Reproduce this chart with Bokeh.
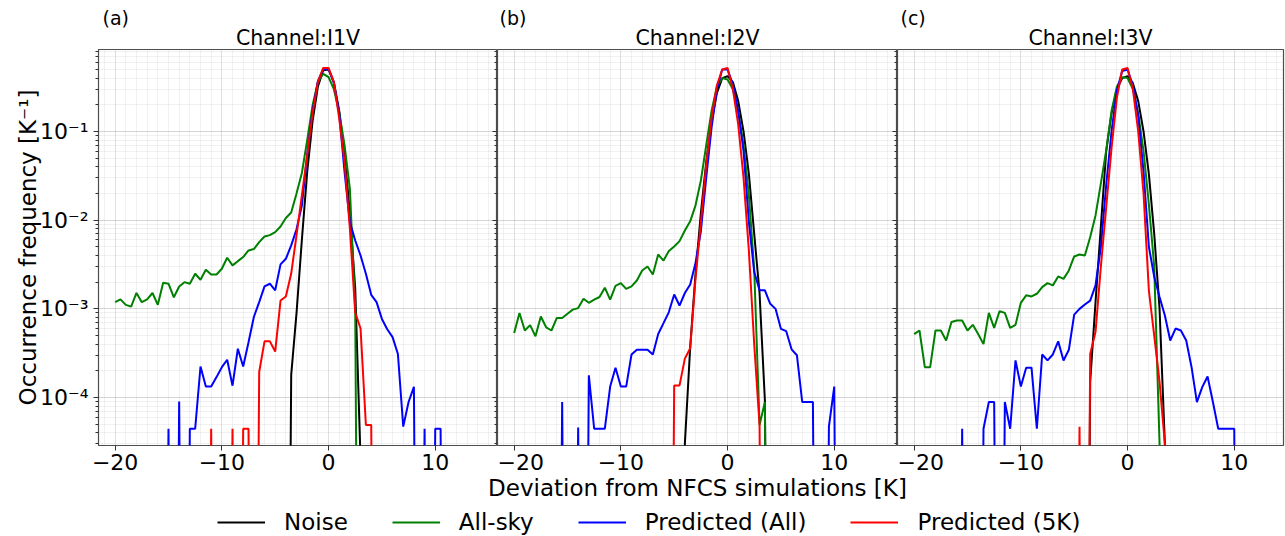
from bokeh.plotting import figure
from bokeh.models import (Range1d, LogTicker, SingleIntervalTicker, CustomJSTickFormatter,
                          Title, Legend, LegendItem, LogAxis, Label)
from bokeh.layouts import column, row
from bokeh.embed import file_html
from bokeh.resources import INLINE

FONT = "DejaVu Sans"

# bin positions (K), 0.5 K bins from -20 to 12
bins = [-20 + 0.5 * i for i in range(65)]

series_names = ["Noise", "All-sky", "Predicted (All)", "Predicted (5K)"]
series_colors = ["#000000", "#008000", "#0000ff", "#ff0000"]
channels = ["Channel:I1V", "Channel:I2V", "Channel:I3V"]
letters = ["(a)", "(b)", "(c)"]
x_title = "Deviation from NFCS simulations [K]"
y_title = "Occurrence frequency [K\u207b\u00b9]"

# ---------------- Channel I1V ----------------
noise_a = [0] * 33 + [1.8e-4, 9e-4, 6e-3, 0.035, 0.13, 0.32, 0.49, 0.50, 0.36, 0.17, 0.055, 0.012,
                      1.7e-3, 2e-5] + [0] * 18
allsky_a = [1.19e-3, 1.28e-3, 1.11e-3, 1.06e-3, 1.51e-3, 1.19e-3, 1.28e-3, 1.51e-3, 1.11e-3, 1.97e-3,
            1.92e-3, 1.35e-3, 1.79e-3, 2.00e-3, 1.92e-3, 2.49e-3, 2.13e-3, 2.76e-3, 2.44e-3, 2.44e-3,
            2.83e-3, 3.77e-3, 3.09e-3, 3.45e-3, 3.84e-3, 4.56e-3, 4.72e-3, 5.66e-3, 6.55e-3, 6.78e-3,
            7.33e-3, 8.49e-3, 1.06e-2, 1.22e-2,
            0.020, 0.034, 0.08, 0.196, 0.36, 0.447, 0.41, 0.30, 0.165, 0.07, 0.0226, 1.0e-3] + [0] * 19
predall_a = [0] * 10 + [4.45e-5, 0, 9e-5, 0, 4.45e-5, 4.45e-5, 2.24e-4, 1.33e-4, 1.33e-4, 1.7e-4,
                        2.2e-4, 2.67e-4, 1.36e-4, 3.55e-4, 2.24e-4, 4.2e-4, 8.1e-4, 1.19e-3, 1.79e-3, 1.92e-3,
                        1.62e-3, 3.17e-3, 3.67e-3, 5.19e-3, 7.9e-3, 0.0146, 0.055, 0.17, 0.37, 0.50,
                        0.51, 0.35, 0.16, 0.035, 9.5e-3, 5.9e-3, 4.0e-3, 2.49e-3, 1.44e-3, 1.19e-3,
                        7.7e-4, 5.9e-4, 4.8e-4, 3.1e-4, 4.7e-5, 8.9e-5, 1.32e-4, 0, 4.45e-5, 0,
                        4.45e-5, 4.45e-5, 0, 0, 0]
pred5k_a = [0] * 18 + [4.45e-5, 0, 0, 0, 4.45e-5, 0, 4.45e-5, 4.45e-5, 0, 1.94e-4, 4.3e-4, 4.3e-4,
                       3.3e-4, 1.24e-3, 1.38e-3, 2.5e-3, 6.8e-3, 0.019, 0.054, 0.16, 0.36, 0.52,
                       0.52, 0.36, 0.14, 0.045, 8e-3, 9.1e-4, 6.0e-4, 4.9e-5, 4.9e-5] + [0] * 16

# ---------------- Channel I2V ----------------
noise_b = [0] * 32 + [3e-5, 3.7e-4, 2.5e-3, 0.012, 0.045, 0.13, 0.27, 0.40, 0.42, 0.36, 0.22, 0.10,
                      0.033, 7e-3, 1.5e-3, 9.3e-5] + [0] * 17
allsky_b = [5.33e-4, 9.0e-4, 5.7e-4, 6.56e-4, 4.9e-4, 8.2e-4, 6.2e-4, 5.7e-4, 7.9e-4, 7.9e-4,
            8.8e-4, 9.8e-4, 1.02e-3, 1.30e-3, 1.17e-3, 1.27e-3, 1.36e-3, 1.73e-3, 1.27e-3, 1.82e-3,
            1.95e-3, 1.68e-3, 1.79e-3, 2.09e-3, 2.71e-3, 3.0e-3, 2.44e-3, 4.1e-3, 3.5e-3, 4.5e-3,
            5.05e-3, 5.8e-3, 7.66e-3, 9.7e-3, 0.0147, 0.028,
            0.0695, 0.17, 0.32, 0.40, 0.385, 0.30, 0.17, 0.07, 0.019, 2.8e-3, 4.9e-5, 8.9e-5] + [0] * 17
predall_b = [0] * 9 + [8.9e-5, 0, 0, 4.6e-5, 0, 1.78e-4, 4.45e-5, 4.45e-5, 4.45e-5, 1.33e-4, 2.17e-4,
                       1.33e-4, 1.33e-4, 3.06e-4, 3.46e-4, 3.46e-4, 3.46e-4, 3.06e-4, 5.2e-4, 6.9e-4, 9.2e-4,
                       1.45e-3, 1.09e-3, 1.51e-3, 1.88e-3, 3.3e-3, 7.5e-3, 0.03, 0.11, 0.30, 0.50,
                       0.50, 0.34, 0.17, 0.06, 9.5e-3, 2.6e-3, 1.62e-3, 1.62e-3, 1.14e-3, 1.0e-3,
                       5.95e-4, 5.6e-4, 3.5e-4, 3.0e-4, 8.9e-5, 8.9e-5, 8.9e-5, 0, 0, 4.7e-5,
                       1.33e-4, 0, 0, 0, 0]
pred5k_b = [0] * 30 + [1.37e-4, 1.37e-4, 2.75e-4, 3.6e-4, 2.2e-3, 9.4e-3, 0.042, 0.14, 0.33, 0.50,
                       0.52, 0.30, 0.12, 0.03, 4.5e-3, 4e-4, 4.9e-5] + [0] * 18

# ---------------- Channel I3V ----------------
noise_c = [0] * 33 + [1.5e-4, 1.2e-3, 8.5e-3, 0.06, 0.16, 0.30, 0.40, 0.42, 0.35, 0.22, 0.10, 0.033,
                      7e-3, 1e-3, 3e-5] + [0] * 17
allsky_c = [5.2e-4, 5.7e-4, 2.2e-4, 2.2e-4, 5.7e-4, 5.7e-4, 4.4e-4, 7.1e-4, 7.4e-4, 7.4e-4,
            5.7e-4, 6.6e-4, 5.2e-4, 4.0e-4, 9.0e-4, 6.1e-4, 9.4e-4, 9.0e-4, 6.1e-4, 6.6e-4,
            1.17e-3, 1.42e-3, 1.38e-3, 1.48e-3, 1.76e-3, 1.95e-3, 1.84e-3, 2.32e-3, 2.18e-3, 2.71e-3,
            3.9e-3, 4.1e-3, 4.0e-3, 6.45e-3, 0.0113, 0.026,
            0.061, 0.17, 0.32, 0.41, 0.40, 0.30, 0.16, 0.06, 0.015, 3e-3, 3e-5] + [0] * 18
predall_c = [0] * 9 + [4.45e-5, 0, 0, 0, 4.45e-5, 8.9e-5, 8.9e-5, 0, 8.9e-5, 4.45e-5, 2.62e-4,
                       1.33e-4, 2.17e-4, 2.17e-4, 4.45e-5, 3.06e-4, 2.62e-4, 3.06e-4, 4.3e-4, 2.62e-4, 3.46e-4,
                       8.6e-4, 1.0e-3, 1.12e-3, 1.24e-3, 1.84e-3, 5e-3, 0.025, 0.10, 0.29, 0.48,
                       0.50, 0.33, 0.15, 0.035, 5e-3, 2.3e-3, 1.36e-3, 8.4e-4, 4.4e-4, 6.0e-4,
                       5.7e-4, 4.4e-4, 2.2e-4, 8.9e-5, 1.31e-4, 1.73e-4, 8.9e-5, 4.45e-5, 4.45e-5, 4.45e-5,
                       4.45e-5, 0, 0, 0, 0]
pred5k_c = [0] * 31 + [4.7e-5, 0, 3.1e-4, 5.5e-4, 3e-3, 0.014, 0.065, 0.24, 0.50, 0.52, 0.30, 0.10,
                       0.02, 1.6e-3, 5e-4, 1.5e-4, 3e-5] + [0] * 17

panel_data = [
    (noise_a, allsky_a, predall_a, pred5k_a),
    (noise_b, allsky_b, predall_b, pred5k_b),
    (noise_c, allsky_c, predall_c, pred5k_c),
]

# empty bins (zero counts) are drawn as drops far below the axis, as a clipped log plot does
def floor(vals):
    return [v if v > 0 else 1e-12 for v in vals]

TOP = 49
FRAME_H = 396
BOTTOM = 34
H = TOP + FRAME_H + BOTTOM          # 479
OVERLAP = 20
TOTAL_H = 535
STRIP_H = TOTAL_H - H + OVERLAP     # 76
Y0, Y1 = 2.88e-5, 0.84
X0 = -21.56
PX_PER_K = 10.67

xfmt = CustomJSTickFormatter(code="return tick < 0 ? '\u2212' + Math.abs(tick) : String(tick);")
yfmt = CustomJSTickFormatter(code="""
const sup = {'-':'\u207b','0':'\u2070','1':'\u00b9','2':'\u00b2','3':'\u00b3','4':'\u2074',
             '5':'\u2075','6':'\u2076','7':'\u2077','8':'\u2078','9':'\u2079'};
const e = Math.round(Math.log10(tick));
return '10' + String(e).split('').map(c => sup[c]).join('');
""")
blankfmt = CustomJSTickFormatter(code="return '';")

y_range = Range1d(Y0, Y1)
# (figure width, left border, right border, frame width, title offset)
specs = [(497, 98, 0, 399, 4), (400, 0, 0, 400, 2), (388, 0, 2, 386, 3)]
figs = []
for k in range(3):
    width, left, right, fw, loff = specs[k]
    p = figure(width=width, height=H, x_range=Range1d(X0, X0 + fw / PX_PER_K), y_range=y_range,
               y_axis_type="log", output_backend="svg", toolbar_location=None,
               min_border_left=left, min_border_right=right, min_border_top=TOP,
               min_border_bottom=BOTTOM, title=letters[k])
    # outer title: panel letter
    p.title.align = "left"
    p.title.offset = loff
    p.title.text_font = FONT
    p.title.text_font_size = "19px"
    p.title.text_font_style = "normal"
    p.title.text_color = "black"
    p.title.standoff = -10
    # inner title: channel name (added later -> closer to the frame)
    p.add_layout(Title(text=channels[k], align="center", text_font=FONT, text_font_size="20.5px",
                       text_font_style="normal", text_color="black", standoff=0), "above")

    p.outline_line_color = "#4d4d4d"
    p.outline_line_width = 1.2
    p.background_fill_color = "white"

    # x axis
    p.xaxis.ticker = SingleIntervalTicker(interval=10, num_minor_ticks=10)
    p.xaxis.formatter = xfmt
    p.xaxis.major_label_text_font = FONT
    p.xaxis.major_label_text_font_size = "22px"
    p.xaxis.major_label_text_color = "black"
    p.xaxis.major_tick_out = 5
    p.xaxis.major_tick_in = 0
    p.xaxis.minor_tick_out = 0
    p.xaxis.minor_tick_in = 0
    p.xaxis.major_label_standoff = 3
    p.xaxis.axis_line_color = None
    p.xaxis.major_tick_line_color = "#333333"

    # y axis
    p.yaxis.ticker = LogTicker(num_minor_ticks=10, mantissas=[1])
    p.yaxis.formatter = yfmt
    p.yaxis.axis_line_color = None
    if k == 0:
        p.yaxis.major_label_text_font = FONT
        p.yaxis.major_label_text_font_size = "22px"
        p.yaxis.major_label_text_color = "black"
        p.yaxis.major_tick_out = 5
        p.yaxis.major_tick_in = 0
        p.yaxis.minor_tick_out = 3
        p.yaxis.minor_tick_in = 0
        p.yaxis.major_label_standoff = 5
        p.yaxis.axis_label = y_title
        p.yaxis.axis_label_text_font = FONT
        p.yaxis.axis_label_text_font_size = "23px"
        p.yaxis.axis_label_text_font_style = "normal"
        p.yaxis.axis_label_text_color = "black"
        p.yaxis.axis_label_standoff = -4
        p.yaxis.major_tick_line_color = "#333333"
        p.yaxis.minor_tick_line_color = "#333333"
    else:
        p.yaxis.visible = False
    if k < 2:
        # tick marks of the next panel's left spine
        ra = LogAxis(ticker=LogTicker(num_minor_ticks=10, mantissas=[1]), formatter=blankfmt,
                     major_label_standoff=0,
                     major_tick_in=5, major_tick_out=0, minor_tick_in=3, minor_tick_out=0,
                     axis_line_color=None, major_tick_line_color="#333333",
                     minor_tick_line_color="#333333")
        p.add_layout(ra, "right")

    # grid
    for g in (p.xgrid, p.ygrid):
        g.grid_line_color = "#b0b0b0"
        g.grid_line_alpha = 0.28
        g.minor_grid_line_color = "#b0b0b0"
        g.minor_grid_line_alpha = 0.18

    for vals, col in zip(panel_data[k], series_colors):
        p.line(bins, floor(vals), color=col, line_width=2)
    figs.append(p)

# strip under the panels: shared x-axis title and legend (transparent, overlaps the empty
# lower border of the panels)
lf = figure(width=1285, height=STRIP_H, output_backend="svg", toolbar_location=None,
            min_border=0, x_range=Range1d(0, 1285), y_range=Range1d(0, STRIP_H),
            margin=(-OVERLAP, 0, 0, 0))
lf.outline_line_color = None
lf.background_fill_color = None
lf.border_fill_color = None
lf.axis.visible = False
lf.grid.visible = False
lf.add_layout(Label(x=697, y=TOTAL_H - 487, text=x_title, text_align="center",
                    text_baseline="middle", text_font=FONT, text_font_size="23px",
                    text_color="black"))
lf.extra_y_ranges = {"hidden": Range1d(10, 20)}
items = []
for vals, name, col in zip(panel_data[0], series_names, series_colors):
    r = lf.line(bins, floor(vals), color=col, line_width=2, y_range_name="hidden")
    items.append(LegendItem(label=name, renderers=[r]))
leg = Legend(items=items, orientation="horizontal", location=(217, 0),
             label_text_font=FONT, label_text_font_size="23px", label_text_color="black",
             glyph_width=48, glyph_height=20, label_standoff=19, spacing=44, padding=0, margin=0,
             border_line_alpha=0, background_fill_alpha=0)
lf.add_layout(leg)

layout = column(row(*figs, spacing=0), lf, spacing=0)
with open("out.html", "w", encoding="utf-8") as f:
    f.write(file_html(layout, INLINE))
